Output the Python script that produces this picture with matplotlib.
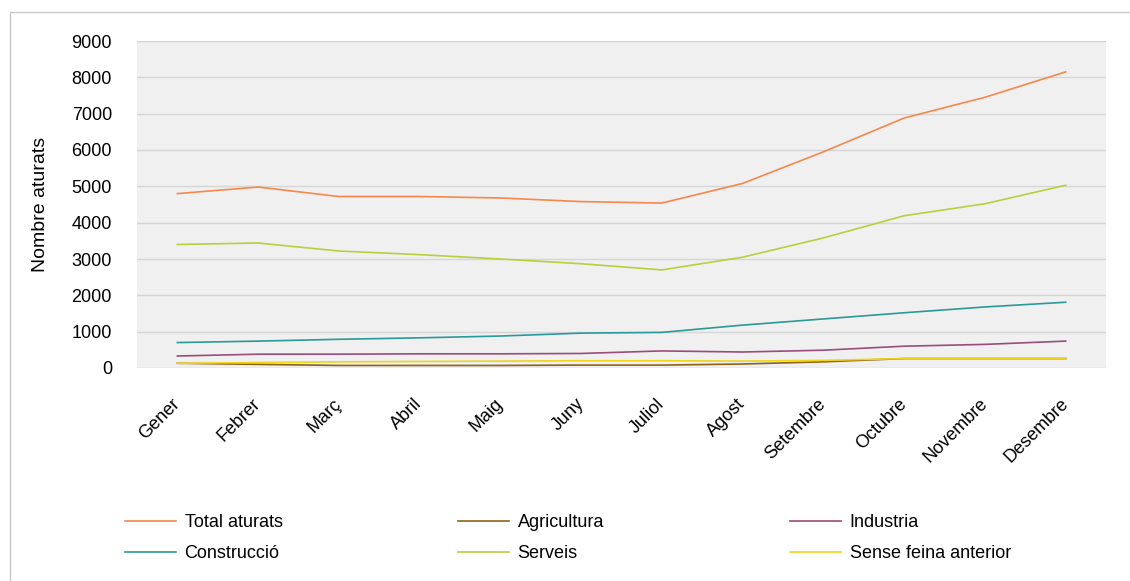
import matplotlib
matplotlib.use('Agg')
import matplotlib.pyplot as plt
from matplotlib.patches import Rectangle

# Data
months = ['Gener', 'Febrer', 'Març', 'Abril', 'Maig', 'Juny',
          'Juliol', 'Agost', 'Setembre', 'Octubre', 'Novembre', 'Desembre']
total_aturats = [4800, 4980, 4720, 4720, 4680, 4580, 4540, 5080, 5950, 6880, 7450, 8150]
agricultura = [130, 100, 70, 70, 70, 80, 80, 110, 170, 260, 260, 260]
industria = [330, 380, 380, 390, 390, 400, 470, 440, 490, 600, 650, 740]
construccio = [700, 740, 790, 830, 880, 960, 980, 1180, 1350, 1520, 1680, 1810]
serveis = [3400, 3440, 3220, 3120, 3000, 2870, 2700, 3050, 3580, 4190, 4520, 5030]
sense_feina = [130, 150, 170, 180, 190, 200, 200, 190, 210, 260, 260, 260]

plt.rcParams['font.family'] = ['Liberation Sans', 'DejaVu Sans']

fig = plt.figure(figsize=(11.3, 5.81), dpi=100)
fig.patch.set_facecolor('white')

# outer chart border (top and left visible)
fig.patches.append(Rectangle((10 / 1130, -0.1), 1.2, 1.1 - 12 / 581,
                             transform=fig.transFigure, fill=False,
                             edgecolor='#c8c8c8', linewidth=1.0, zorder=0))

ax = fig.add_axes([137 / 1130, 1 - 368 / 581, (1106 - 137) / 1130, (368 - 41) / 581])
ax.set_facecolor('#f0f0f0')

x = list(range(len(months)))
series = [
    ('Total aturats', total_aturats, '#f5884a'),
    ('Agricultura', agricultura, '#8c6418'),
    ('Industria', industria, '#9a4c7c'),
    ('Construcció', construccio, '#2a9a98'),
    ('Serveis', serveis, '#b8d03c'),
    ('Sense feina anterior', sense_feina, '#f2d41a'),
]
lines = []
for name, vals, col in series:
    ln, = ax.plot(x, vals, color=col, linewidth=1.2, label=name)
    lines.append(ln)

ax.set_xlim(-0.5, len(months) - 0.5)
ax.set_ylim(0, 9000)
ax.set_yticks(range(0, 9001, 1000))
ax.yaxis.grid(True, color='#d6d6d6', linewidth=1.0)
ax.set_axisbelow(True)
for s in ax.spines.values():
    s.set_visible(False)

ax.set_xticks(x)
ax.set_xticklabels(months, rotation=45, ha='right', va='center',
                   rotation_mode='anchor', fontsize=13)
ax.tick_params(axis='x', length=0, pad=24)
ax.tick_params(axis='y', length=0, pad=18, labelsize=13)

ax.set_ylabel('Nombre aturats', fontsize=14, labelpad=16)

# legend in three columns at the bottom
legend_cols = [(125, [0, 3]), (458, [1, 4]), (790, [2, 5])]
for xpos, idx in legend_cols:
    fig.legend([lines[i] for i in idx], [series[i][0] for i in idx],
               loc='upper left', bbox_to_anchor=(xpos / 1130, 1 - 514 / 581),
               frameon=False, fontsize=13, handlelength=2.8, handletextpad=0.5,
               labelspacing=0.8, borderaxespad=0, borderpad=0)

fig.savefig('out.png', dpi=100)
